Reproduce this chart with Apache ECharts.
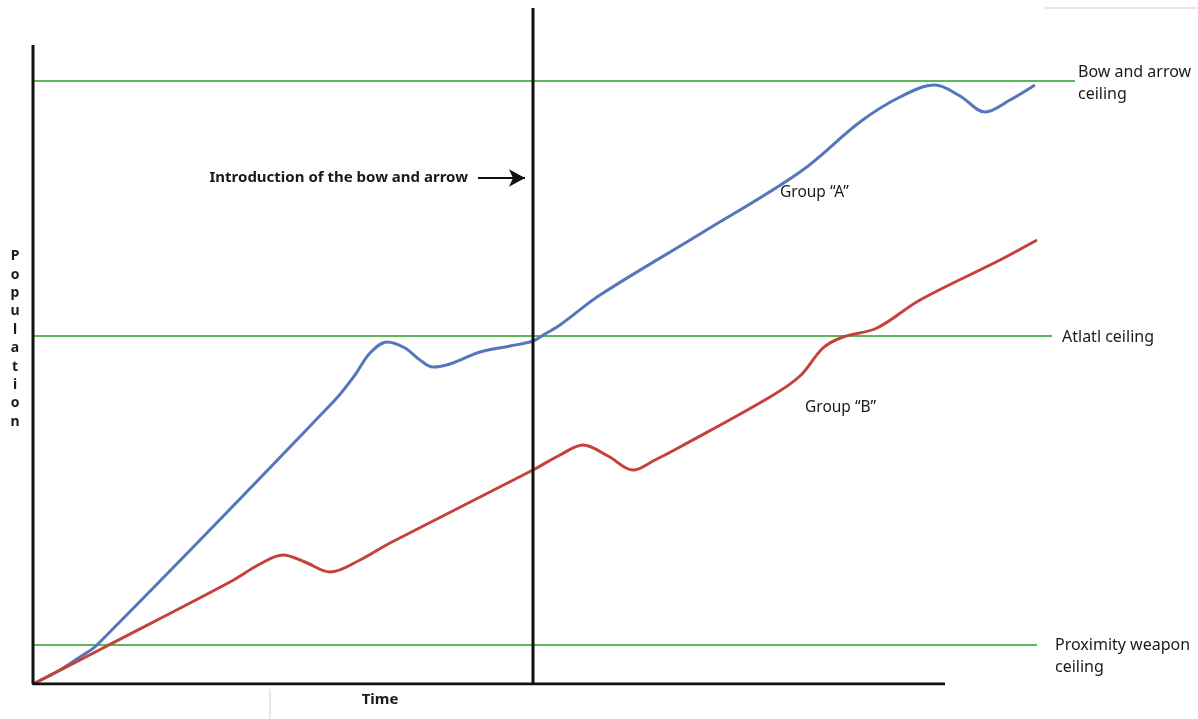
<!DOCTYPE html>
<html>
<head>
<meta charset="utf-8">
<script src="https://cdn.jsdelivr.net/npm/echarts@6/dist/echarts.min.js"></script>
<style>
html,body{margin:0;padding:0;background:#fff}
#main{width:1198px;height:719px}
</style>
</head>
<body>
<div id="main"></div>
<script>
// time / population in arbitrary units
var timeA = [0, 2.7, 4.7, 6.4, 30.2, 32.2, 33.7, 35.4, 37.2, 38.7, 40.0, 41.7, 44.7, 47.7, 50.0, 51.2, 52.7, 56.7, 66.7, 76.7, 82.7, 86.7, 90.2, 92.7, 95.2, 97.7, 100.2];
var popA  = [0, 1.4, 2.7, 3.9, 28.4, 30.9, 33.1, 34.2, 33.6, 32.4, 31.7, 32.0, 33.2, 33.8, 34.3, 35.0, 35.9, 38.9, 45.0, 51.2, 56.2, 58.7, 59.9, 58.8, 57.2, 58.4, 59.9];
var timeB = [0, 4.7, 7.2, 19.7, 22.7, 25.0, 27.2, 29.7, 32.7, 35.7, 50.0, 52.7, 55.0, 57.5, 60.0, 62.2, 64.7, 73.7, 76.7, 79.0, 81.0, 84.4, 88.7, 96.7, 100.4];
var popB  = [0, 2.4, 3.7, 10.2, 12.0, 12.9, 12.2, 11.2, 12.4, 14.1, 21.4, 22.9, 23.9, 22.8, 21.4, 22.4, 23.7, 28.7, 30.8, 33.6, 34.7, 35.6, 38.4, 42.4, 44.4];

var ceilingNames = ['Proximity weapon\nceiling', 'Atlatl ceiling', 'Bow and arrow\nceiling'];
var ceilingLevels = [3.9, 34.8, 60.3];
var ceilingEnds = [100.4, 101.9, 104.2];
var introTime = 50.0;
var timeMax = 104.2, popMax = 67.6;
var axisTimeEnd = 91.2, axisPopEnd = 63.9;

function pairs(xs, ys) {
    return xs.map(function (x, i) { return [x, ys[i]]; });
}

var labelFont = '"Noto Sans", sans-serif';
var ceilingOffsets = [[10, 11], [2, 1], [-5, 2]];

var series = [];
ceilingLevels.forEach(function (lv, i) {
    series.push({
        name: ceilingNames[i],
        type: 'line',
        data: [[0, lv], [ceilingEnds[i], lv]],
        symbol: 'none',
        lineStyle: {color: '#5db75b', width: 2},
        endLabel: {
            show: true,
            formatter: ceilingNames[i],
            offset: ceilingOffsets[i],
            color: '#1a1a1a',
            fontFamily: labelFont,
            fontSize: 16,
            lineHeight: 22
        },
        z: 1
    });
});
series.push({
    name: 'Group A', type: 'line', data: pairs(timeA, popA), symbol: 'none',
    smooth: 0.35, lineStyle: {color: '#5576bb', width: 3}, z: 3
});
series.push({
    name: 'Group B', type: 'line', data: pairs(timeB, popB), symbol: 'none',
    smooth: 0.35, lineStyle: {color: '#c4423a', width: 3}, z: 3
});
// axes drawn as plain lines (the x axis stops short of the ceilings)
series.push({
    name: 'axes', type: 'line', data: [[0, axisPopEnd], [0, 0], [axisTimeEnd, 0]], symbol: 'none',
    lineStyle: {color: '#111', width: 3}, z: 4
});
series.push({
    name: 'intro', type: 'line', data: [[introTime, 0], [introTime, popMax]], symbol: 'none',
    lineStyle: {color: '#111', width: 3}, z: 4,
    markLine: {
        silent: true,
        symbol: ['none', 'arrow'],
        symbolSize: [13, 16],
        label: {show: false},
        lineStyle: {color: '#111', width: 2, type: 'solid'},
        data: [[{coord: [44.5, 50.6]}, {coord: [49.2, 50.6]}]]
    }
});

var myChart = echarts.init(document.getElementById('main'));
myChart.setOption({
    animation: false,
    backgroundColor: '#fff',
    grid: {left: 33, right: 123, top: 8, bottom: 35},
    xAxis: {type: 'value', min: 0, max: timeMax, show: false},
    yAxis: {type: 'value', min: 0, max: popMax, show: false},
    series: series
});

// text notes placed through the chart scales
var notes = [
    {text: 'Introduction of the bow and arrow', at: [43.5, 50.6], align: 'right', bold: true, size: 15},
    {text: 'Group \u201CA\u201D', at: [74.7, 49.1], align: 'left', size: 15.5},
    {text: 'Group \u201CB\u201D', at: [77.2, 27.6], align: 'left', size: 15.5},
    {text: 'Time', at: [34.7, -1.6], align: 'center', bold: true, size: 15}
];
var graphic = notes.map(function (n) {
    var p = myChart.convertToPixel({gridIndex: 0}, n.at);
    return {
        type: 'text', x: p[0], y: p[1],
        style: {
            text: n.text, fill: '#1a1a1a', font: (n.bold ? 'bold ' : '') + n.size + 'px ' + labelFont,
            align: n.align, verticalAlign: 'middle'
        }
    };
});
graphic.push({
    type: 'text', x: 15, y: 247,
    style: {
        text: 'Population'.split('').join('\n'), fill: '#1a1a1a',
        font: 'bold 14px ' + labelFont, lineHeight: 18.4, align: 'center'
    }
});
graphic.push({type: 'line', shape: {x1: 1045, y1: 8, x2: 1198, y2: 8}, style: {stroke: '#dccbd3', lineWidth: 1}});
graphic.push({type: 'line', shape: {x1: 270, y1: 689, x2: 270, y2: 719}, style: {stroke: '#d8d0d4', lineWidth: 1}});
myChart.setOption({graphic: graphic});
</script>
</body>
</html>
